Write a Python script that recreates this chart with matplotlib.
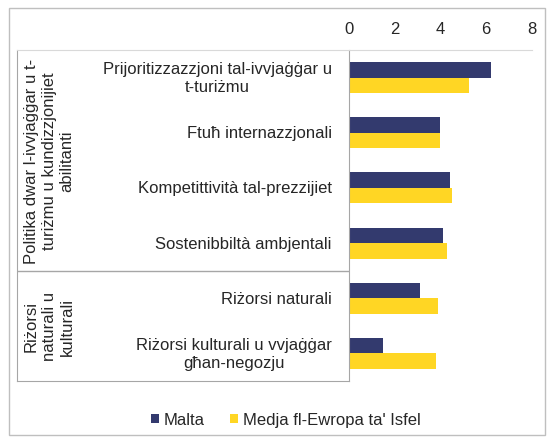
import matplotlib.pyplot as plt
import matplotlib.patches as patches
import numpy as np

plt.rcParams['font.family'] = ['Liberation Sans', 'DejaVu Sans']

categories = ['Prijoritizzazzjoni tal-ivvjaġġar u\nt-turiżmu',
              'Ftuħ internazzjonali',
              'Kompetittività tal-prezzijiet',
              'Sostenibbiltà ambjentali',
              'Riżorsi naturali',
              'Riżorsi kulturali u vvjaġġar\ngħan-negozju']
malta = [6.2, 4.0, 4.4, 4.1, 3.1, 1.5]
europe = [5.25, 4.0, 4.5, 4.3, 3.9, 3.8]
groups = ['Politika dwar l-ivvjaġġar u t-\nturiżmu u kundizzjonijiet\nabilitanti',
          'Riżorsi\nnaturali u\nkulturali']
group_sizes = [4, 2]
series_names = ['Malta', "Medja fl-Ewropa ta' Isfel"]
xticks = [0, 2, 4, 6, 8]

navy = '#333a6e'
yellow = '#ffd624'
grey = '#a6a6a6'
txt = '#262626'
fs = 12

W, H = 549, 439
fig = plt.figure(figsize=(W / 100, H / 100), dpi=100)

def fx(px): return px / W
def fy(py): return 1 - py / H

# outer frame
fig.add_artist(patches.Rectangle((fx(9), fy(436)), fx(536), (436 - 9) / H,
                                 transform=fig.transFigure, fill=False,
                                 edgecolor='#bfbfbf', lw=1))

x0, x1, ytop, ybot, xl = 349, 532, 51, 382, 17
ax = fig.add_axes([fx(x0), fy(ybot), fx(x1 - x0), (ybot - ytop) / H])

n = len(categories)
y = np.arange(n)
h = 0.28
ax.barh(y - h / 2, malta, height=h, color=navy, label=series_names[0])
ax.barh(y + h / 2, europe, height=h, color=yellow, label=series_names[1])
ax.set_ylim(n - 0.5, -0.5)
ax.set_xlim(0, 8)
ax.set_xticks(xticks)
ax.xaxis.tick_top()
ax.tick_params(axis='x', length=0, pad=10, labelsize=fs, labelcolor=txt)
ax.set_yticks([])
for s in ['right', 'bottom']:
    ax.spines[s].set_visible(False)
ax.spines['left'].set_color(grey)
ax.spines['top'].set_color('#d9d9d9')

# category label box
lab = fig.add_axes([fx(xl), fy(ybot), fx(x0 - xl), (ybot - ytop) / H])
lab.set_xlim(0, 1)
lab.set_ylim(n - 0.5, -0.5)
lab.set_xticks([]); lab.set_yticks([])
lab.patch.set_alpha(0)
lab.spines['right'].set_visible(False)
for s in ['left', 'bottom']:
    lab.spines[s].set_color(grey)
lab.spines['top'].set_color('#d9d9d9')
for i, c in enumerate(categories):
    lab.text(0.948, i, c, ha='right', va='center', multialignment='center',
             fontsize=fs, color=txt)
start = 0
for g, sz in zip(groups, group_sizes):
    if start > 0:
        lab.axhline(start - 0.5, color=grey, lw=1)
    lab.text(0.097, start + sz / 2 - 0.5, g, rotation=90, ha='center', va='center',
             multialignment='center', fontsize=fs, color=txt, linespacing=1.25)
    start += sz

leg = fig.legend(loc='center', bbox_to_anchor=(fx(286), fy(421)), ncol=2, frameon=False,
                 fontsize=fs, handlelength=0.5, handleheight=0.5, handletextpad=0.3,
                 columnspacing=1.5)
for t in leg.get_texts():
    t.set_color(txt)

fig.savefig('out.png', dpi=100)
